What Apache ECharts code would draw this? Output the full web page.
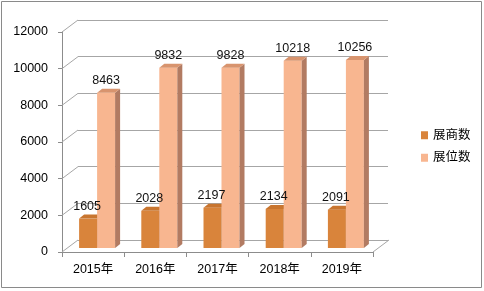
<!DOCTYPE html>
<html><head><meta charset="utf-8">
<script src="https://cdn.jsdelivr.net/npm/echarts@6/dist/echarts.min.js"></script>
<style>html,body{margin:0;padding:0;background:#fff}#c{width:484px;height:291px}</style>
</head><body><div id="c"></div>
<script>
const categories = ['2015年','2016年','2017年','2018年','2019年'];
const exhibitors = [1605, 2028, 2197, 2134, 2091];
const booths = [8463, 9832, 9828, 10218, 10256];
const yTicks = [0, 2000, 4000, 6000, 8000, 10000, 12000];
const seriesNames = ['展商数', '展位数'];

const FONT = '"Liberation Sans","Noto Sans CJK SC",sans-serif';
const chart = echarts.init(document.getElementById('c'));

function bar3d(leftSide, cFront, cSide, cTop) {
  return function (params, api) {
    const idx = api.value(0), v = api.value(1);
    const base = api.coord([idx, 0]);
    const tp = api.coord([idx, v]);
    const w = 18, dx = 5, dy = -4;
    const x0 = leftSide ? base[0] - w - 1 : base[0] - 1;
    const y0 = base[1], y1 = tp[1];
    return {
      type: 'group',
      children: [
        { type: 'rect', shape: { x: x0, y: y1, width: w, height: y0 - y1 }, style: { fill: cFront } },
        { type: 'polygon', shape: { points: [[x0 + w, y1], [x0 + w + dx, y1 + dy], [x0 + w + dx, y0 + dy], [x0 + w, y0]] }, style: { fill: cSide } },
        { type: 'polygon', shape: { points: [[x0, y1], [x0 + dx, y1 + dy], [x0 + w + dx, y1 + dy], [x0 + w, y1]] }, style: { fill: cTop } },
        { type: 'text', z2: 100, x: x0 + w / 2 + (leftSide ? -1 : 0), y: y1 + dy - 2,
          style: { text: String(v), fill: '#111', font: '12.5px ' + FONT, align: 'center', verticalAlign: 'bottom' } }
      ]
    };
  };
}

const option = {
  animation: false,
  backgroundColor: '#fff',
  graphic: [{ type: 'rect', shape: { x: 1.5, y: 1.5, width: 480, height: 286 }, style: { fill: 'none', stroke: '#8a8a8a', lineWidth: 1 } }],
  legend: {
    orient: 'vertical', left: 416, top: 124, itemWidth: 7, itemHeight: 8, itemGap: 10,
    icon: 'rect', textStyle: { fontSize: 12.5, fontFamily: FONT, color: '#000' },
    data: seriesNames
  },
  grid: [
    { left: 62, right: 111, top: 32, bottom: 39 },
    { left: 78, right: 96, top: 20, bottom: 51 },
    { left: 67, right: 106, top: 28, bottom: 43 }
  ],
  xAxis: [
    { gridIndex: 0, type: 'category', data: categories, boundaryGap: true,
      axisLine: { lineStyle: { color: '#8c8c8c' } }, axisTick: { show: true, length: 5, lineStyle: { color: '#8c8c8c' } },
      axisLabel: { color: '#000', fontSize: 12.5, fontFamily: FONT, margin: 11 } },
    { gridIndex: 1, type: 'category', data: categories, show: false },
    { gridIndex: 2, type: 'category', data: categories, show: false }
  ],
  yAxis: [
    { gridIndex: 0, type: 'value', min: 0, max: 12000, interval: 2000,
      axisLine: { show: true, lineStyle: { color: '#8c8c8c' } }, axisTick: { show: true, length: 4, lineStyle: { color: '#8c8c8c' } },
      splitLine: { show: false },
      axisLabel: { color: '#000', fontSize: 12.5, fontFamily: FONT, margin: 14, formatter: v => String(v) } },
    { gridIndex: 1, type: 'value', min: 0, max: 12000, interval: 2000,
      axisLine: { show: false }, axisTick: { show: false }, axisLabel: { show: false },
      splitLine: { show: true, lineStyle: { color: '#a6a6a6', width: 1 } } },
    { gridIndex: 2, type: 'value', min: 0, max: 12000, show: false, splitLine: { show: false } }
  ],
  series: [
    { type: 'custom', name: 'depth', xAxisIndex: 0, yAxisIndex: 0, silent: true,
      data: yTicks.map(t => [0, t]),
      renderItem: function (params, api) {
        const v = api.value(1);
        const y = api.coord([0, v])[1];
        const cs = params.coordSys;
        const children = [{ type: 'line', shape: { x1: cs.x, y1: y, x2: cs.x + 16, y2: y - 12 }, style: { stroke: '#a6a6a6', lineWidth: 1 } }];
        if (v === 0) {
          children.push({ type: 'line', shape: { x1: cs.x + cs.width, y1: y, x2: cs.x + cs.width + 16, y2: y - 12 }, style: { stroke: '#a6a6a6', lineWidth: 1 } });
        }
        return { type: 'group', children: children };
      }
    },
    { type: 'custom', name: seriesNames[0], xAxisIndex: 2, yAxisIndex: 2,
      itemStyle: { color: '#D9843B' },
      data: exhibitors.map((v, i) => [i, v]),
      renderItem: bar3d(true, '#D9843B', '#A3622B', '#C8752F') },
    { type: 'custom', name: seriesNames[1], xAxisIndex: 2, yAxisIndex: 2,
      itemStyle: { color: '#F8B690' },
      data: booths.map((v, i) => [i, v]),
      renderItem: bar3d(false, '#F8B690', '#B27B62', '#D8946E') }
  ]
};
chart.setOption(option);
</script></body></html>
